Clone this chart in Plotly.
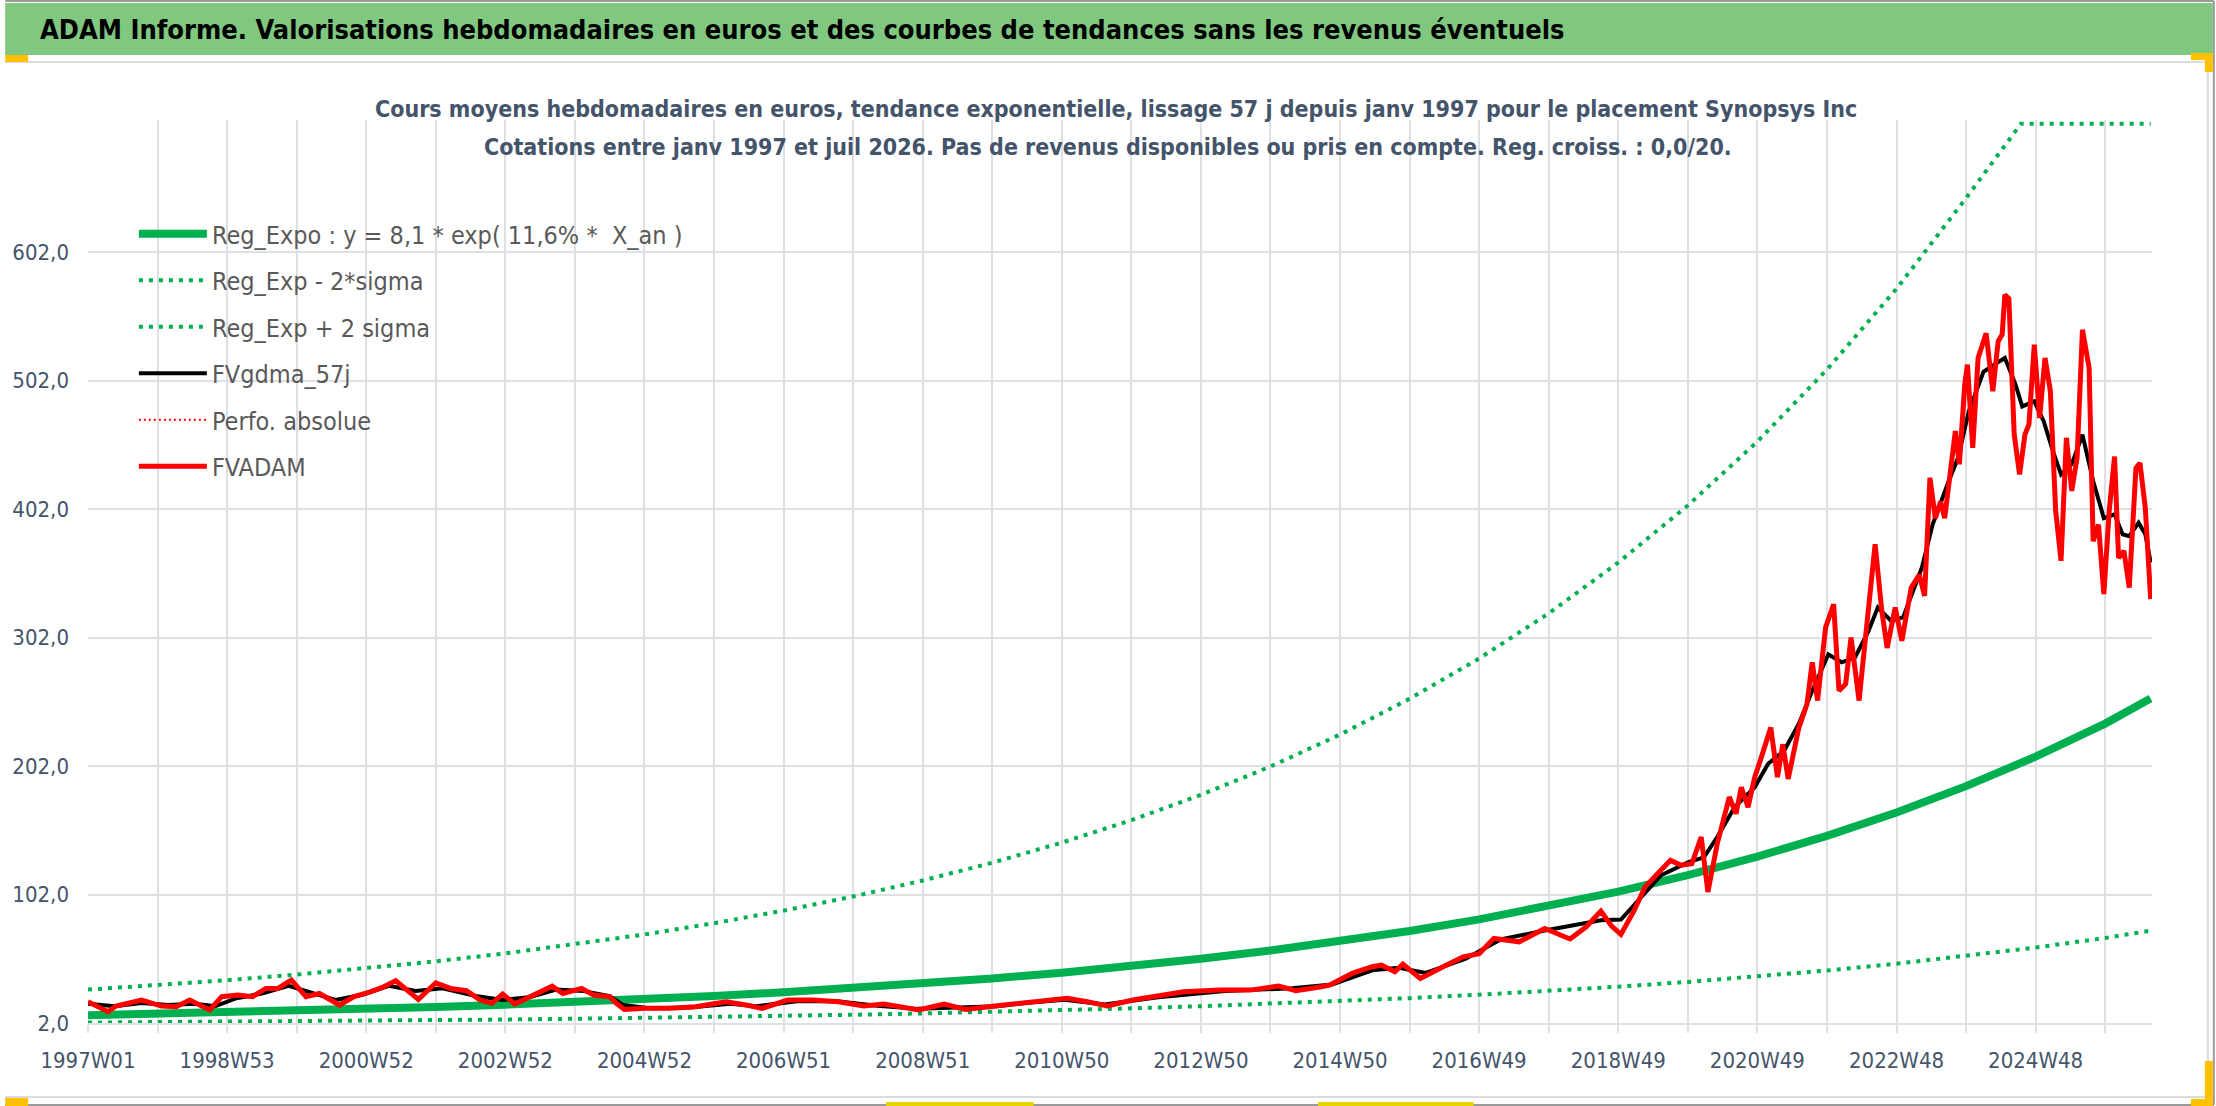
import plotly.graph_objects as go

# --- data ----------------------------------------------------------------
# x = week index since 1997W01 (one category per week)
x_labels = ["1997W01", "1998W53", "2000W52", "2002W52", "2004W52", "2006W51", "2008W51",
            "2010W50", "2012W50", "2014W50", "2016W49", "2018W49", "2020W49", "2022W48", "2024W48"]
n_weeks = 1543

y_ticks = [2, 102, 202, 302, 402, 502, 602]
y_labels = ["2,0", "102,0", "202,0", "302,0", "402,0", "502,0", "602,0"]

# regression curves, read at every yearly gridline (+ last week)
reg_weeks = [0, 52, 104, 156, 208, 260, 312, 364, 416, 468, 520, 572, 624, 676, 728, 780,
             832, 884, 936, 988, 1040, 1092, 1144, 1196, 1248, 1300, 1352, 1404, 1445, 1456, 1508, 1542]
reg_expo = [8.1, 9.1, 10.2, 11.5, 12.9, 14.5, 16.3, 18.3, 20.5, 23.0, 25.9, 29.1, 32.7, 36.7, 41.2, 46.3,
            52.0, 58.4, 65.5, 73.6, 82.7, 92.9, 104.3, 117.1, 131.5, 147.7, 165.9, 186.4, 204.5, 209.3, 235.1, 254.6]
reg_plus = [28.0, 31.4, 35.3, 39.7, 44.6, 50.0, 56.2, 63.2, 70.9, 79.7, 89.5, 100.5, 112.9, 126.8, 142.4, 159.9,
            179.6, 201.7, 226.5, 254.4, 285.8, 320.9, 360.5, 404.9, 454.7, 510.7, 573.6, 644.2, 702, 702, 702, 702]
reg_minus = [2.35, 2.64, 2.96, 3.33, 3.74, 4.2, 4.72, 5.3, 5.95, 6.68, 7.51, 8.43, 9.47, 10.64, 11.95, 13.42,
             15.07, 16.93, 19.01, 21.36, 23.99, 26.94, 30.26, 33.99, 38.17, 42.87, 48.15, 54.08, 59.0, 60.74, 68.22, 73.9]

# FVADAM weekly valuation (red)
adam_weeks = [0, 15, 21, 40, 55, 66, 76, 91, 100, 112, 123, 133, 142, 152, 163, 173, 188, 199, 211, 220,
              230, 237, 247, 260, 271, 283, 293, 302, 310, 319, 333, 347, 355, 369, 378, 390, 395, 401, 416, 435,
              454, 477, 492, 504, 523, 542, 561, 580, 595, 621, 640, 656, 678, 701, 732, 747, 762, 781, 800, 819,
              846, 869, 890, 903, 922, 928, 945, 960, 967, 977, 983, 996, 1009, 1028, 1040, 1051, 1070, 1089, 1108, 1120,
              1131, 1139, 1146, 1156, 1164, 1176, 1183, 1191, 1199, 1206, 1211, 1218, 1227, 1232, 1236, 1241, 1246, 1251, 1258, 1263,
              1267, 1271, 1279, 1285, 1289, 1293, 1299, 1305, 1309, 1314, 1318, 1324, 1329, 1336, 1341, 1345, 1351, 1356, 1363, 1369,
              1373, 1377, 1381, 1385, 1388, 1392, 1396, 1399, 1403, 1405, 1409, 1413, 1419, 1424, 1428, 1431, 1433, 1436, 1440, 1444,
              1448, 1451, 1455, 1459, 1463, 1467, 1471, 1475, 1479, 1483, 1487, 1491, 1496, 1499, 1503, 1507, 1511, 1515, 1518, 1522,
              1526, 1531, 1534, 1538, 1542]
adam_vals = [18.6, 10.8, 15.2, 19.9, 15.2, 14.7, 19.9, 12.1, 22.5, 23.8, 22.5, 28.9, 28.9, 35.4, 22.5, 25.0, 16.0, 22.5, 26.3, 29.7,
             34.9, 28.9, 20.4, 33.3, 28.9, 27.1, 19.9, 17.3, 24.5, 16.8, 23.8, 30.7, 25.0, 28.9, 23.8, 22.5, 17.3, 12.6, 13.4, 13.4,
             14.7, 18.6, 16.0, 13.4, 19.9, 19.9, 18.6, 15.2, 16.8, 12.1, 16.8, 12.6, 15.2, 17.8, 21.2, 18.6, 15.2, 19.9, 23.0, 26.3,
             27.6, 27.6, 30.7, 27.1, 30.2, 31.5, 40.6, 45.8, 47.0, 41.9, 47.8, 36.7, 43.7, 53.5, 56.0, 67.8, 65.2, 75.6, 67.4, 76.9,
             89.0, 77.5, 71.0, 89.8, 108.0, 121.0, 128.6, 124.8, 126.0, 146.8, 104.0, 141.6, 177.9, 165.0, 185.6, 170.0, 193.4, 209.0, 232.0, 193.4,
             219.0, 192.0, 232.0, 250.0, 282.8, 253.0, 310.0, 328.0, 260.7, 266.0, 302.0, 253.0, 302.0, 374.7, 323.0, 294.0, 325.5, 299.6, 341.0, 351.0,
             334.5, 426.5, 395.0, 408.0, 395.0, 431.7, 462.8, 437.0, 499.0, 514.6, 449.8, 519.7, 539.0, 493.8, 532.7, 538.0, 569.0, 566.0, 460.0, 429.0,
             460.0, 468.0, 530.0, 473.0, 519.7, 494.0, 400.6, 361.8, 457.6, 416.2, 442.0, 541.7, 512.0, 377.0, 390.0, 335.9, 400.6, 443.0, 364.0, 369.5,
             341.0, 434.0, 438.0, 403.0, 332.0]

# FVgdma_57j smoothed valuation (black)
gdma_weeks = [0, 20, 40, 60, 80, 95, 110, 130, 150, 165, 185, 205, 225, 245, 265, 290, 310, 330, 350, 370,
              390, 400, 420, 450, 480, 500, 530, 560, 590, 620, 650, 680, 700, 730, 760, 800, 850, 900, 930, 960,
              980, 1000, 1030, 1056, 1089, 1131, 1146, 1161, 1176, 1196, 1208, 1218, 1231, 1246, 1256, 1268, 1279, 1289, 1301, 1311,
              1321, 1331, 1338, 1348, 1357, 1371, 1379, 1390, 1398, 1406, 1417, 1425, 1433, 1441, 1446, 1455, 1462, 1469, 1475, 1483,
              1491, 1499, 1507, 1515, 1521, 1526, 1533, 1538, 1542]
gdma_vals = [17.0, 15.0, 17.5, 16.0, 17.0, 15.0, 21.0, 25.0, 31.0, 26.0, 20.0, 24.0, 31.0, 27.0, 29.0, 23.0, 20.0, 22.0, 28.0, 27.0,
             23.0, 16.0, 13.5, 14.0, 17.0, 15.0, 19.0, 19.0, 15.5, 13.0, 14.0, 15.0, 17.5, 20.0, 16.5, 22.0, 27.0, 29.0, 32.0, 43.0,
             45.0, 41.0, 52.0, 67.0, 74.0, 82.0, 82.5, 100.0, 117.0, 127.0, 131.0, 146.8, 170.0, 185.6, 203.8, 214.0, 235.0, 260.7, 289.0, 282.8,
             286.6, 307.0, 325.5, 315.0, 318.0, 356.6, 390.0, 421.0, 442.0, 478.0, 509.0, 514.6, 519.7, 499.0, 482.0, 486.0, 470.5, 447.0, 429.0, 437.0,
             460.0, 424.0, 395.0, 398.0, 382.5, 381.0, 391.5, 382.5, 360.5]

# --- geometry -------------------------------------------------------------
W, H = 2216, 1106
L, R, T, B = 83, 64, 120, 83
PW, PH = W - L - R, H - T - B


def px(x):
    return (x - L) / PW


def py(y):
    return (H - B - y) / PH


FONT = "Liberation Sans Narrow, DejaVu Sans Condensed, Arial Narrow, sans-serif"
GREEN = "#00B050"
GRID = "#DDE0E5"
TXT = "#44546A"

fig = go.Figure()
fig.add_trace(go.Scatter(x=reg_weeks, y=reg_expo, mode="lines", name="Reg_Expo : y = 8,1 * exp( 11,6% *  X_an )",
                         line=dict(color=GREEN, width=8), legendgroup="a"))
fig.add_trace(go.Scatter(x=reg_weeks, y=reg_minus, mode="lines", name="Reg_Exp - 2*sigma",
                         line=dict(color=GREEN, width=4, dash="4px,6px"), legendgroup="b"))
fig.add_trace(go.Scatter(x=reg_weeks, y=reg_plus, mode="lines", name="Reg_Exp + 2 sigma",
                         line=dict(color=GREEN, width=4, dash="4px,6px"), legendgroup="c"))
fig.add_trace(go.Scatter(x=gdma_weeks, y=gdma_vals, mode="lines", name="FVgdma_57j",
                         line=dict(color="black", width=4), legendgroup="d"))
fig.add_trace(go.Scatter(x=[None], y=[None], mode="lines", name="Perfo. absolue",
                         line=dict(color="#FF0000", width=2, dash="2px,3px"), legendgroup="e"))
fig.add_trace(go.Scatter(x=adam_weeks, y=adam_vals, mode="lines", name="FVADAM",
                         line=dict(color="#FF0000", width=5), legendgroup="f"))

shapes = [
    # header band
    dict(type="rect", xref="paper", yref="paper", x0=px(0), x1=px(2213), y0=py(55), y1=py(3),
         fillcolor="#80C880", line=dict(width=0), layer="below"),
    # outer border
    dict(type="line", xref="paper", yref="paper", x0=px(0), x1=px(2214), y0=py(1), y1=py(1),
         line=dict(color="#9A9A9A", width=2)),
    dict(type="line", xref="paper", yref="paper", x0=px(2214), x1=px(2214), y0=py(1), y1=py(1105),
         line=dict(color="#9A9A9A", width=2)),
    dict(type="line", xref="paper", yref="paper", x0=px(0), x1=px(2214), y0=py(1105), y1=py(1105),
         line=dict(color="#9A9A9A", width=2)),
    # inner chart frame
    dict(type="line", xref="paper", yref="paper", x0=px(0), x1=px(2208), y0=py(62), y1=py(62),
         line=dict(color="#DCDCDC", width=2)),
    dict(type="line", xref="paper", yref="paper", x0=px(2208), x1=px(2208), y0=py(62), y1=py(1097),
         line=dict(color="#DCDCDC", width=2)),
    dict(type="line", xref="paper", yref="paper", x0=px(0), x1=px(2208), y0=py(1097), y1=py(1097),
         line=dict(color="#DCDCDC", width=2)),
    # white box behind the subtitle
    dict(type="rect", xref="paper", yref="paper", x0=px(335), x1=px(1870), y0=py(175), y1=py(90),
         fillcolor="white", line=dict(width=0), layer="between"),
]
# selection handles
for x0, y0, x1, y1, c in [(0, 55, 23, 62, "#FFC000"), (2191, 53, 2213, 60, "#FFC000"),
                          (2205, 53, 2213, 72, "#FFC000"), (0, 1098, 23, 1106, "#FFC000"),
                          (2191, 1099, 2213, 1106, "#FFC000"), (2205, 1061, 2213, 1106, "#FFC000"),
                          (883, 1102, 1031, 1106, "#E8D400"), (1316, 1102, 1472, 1106, "#E8D400")]:
    shapes.append(dict(type="rect", xref="paper", yref="paper", x0=px(x0), x1=px(x1), y0=py(y1), y1=py(y0),
                       fillcolor=c, line=dict(width=0)))

annotations = [
    dict(text="<b>ADAM Informe. Valorisations hebdomadaires en euros et des courbes de tendances sans les revenus éventuels</b>",
         xref="paper", yref="paper", x=px(33), y=py(29), xanchor="left", yanchor="middle", showarrow=False,
         font=dict(family=FONT, size=27, color="black")),
    dict(text="<b>Cours moyens hebdomadaires en euros, tendance exponentielle, lissage 57 j depuis janv 1997 pour le placement Synopsys Inc</b>",
         xref="paper", yref="paper", x=px(1113), y=py(109), xanchor="center", yanchor="middle", showarrow=False,
         font=dict(family=FONT, size=23, color=TXT)),
    dict(text="<b>Cotations entre janv 1997 et juil 2026. Pas de revenus disponibles ou pris en compte. Reg. croiss. : 0,0/20.</b>",
         xref="paper", yref="paper", x=px(1105), y=py(147), xanchor="center", yanchor="middle", showarrow=False,
         font=dict(family=FONT, size=23, color=TXT)),
]

fig.update_layout(
    width=W, height=H,
    margin=dict(l=L, r=R, t=T, b=B, pad=0),
    paper_bgcolor="white", plot_bgcolor="white",
    font=dict(family=FONT, color=TXT),
    shapes=shapes, annotations=annotations,
    showlegend=True,
    legend=dict(x=px(129), y=py(211), xanchor="left", yanchor="top", bgcolor="rgba(0,0,0,0)",
                font=dict(family=FONT, size=25, color="#595959"), itemwidth=68,
                tracegroupgap=11, traceorder="grouped"),
)
fig.update_xaxes(
    range=[0, n_weeks], showgrid=False, zeroline=False,
    tickvals=[i * 104 for i in range(len(x_labels))], ticktext=x_labels,
    ticks="outside", ticklen=8, tickwidth=2, tickcolor=GRID, ticklabelstandoff=9,
    tickfont=dict(family=FONT, size=22, color=TXT),
    showline=True, linecolor=GRID, linewidth=2,
    minor=dict(dtick=52, tick0=0, showgrid=True, gridcolor=GRID, gridwidth=2,
               ticks="outside", ticklen=8, tickwidth=2, tickcolor=GRID),
)
fig.update_yaxes(
    range=[2, 705], tickvals=y_ticks, ticktext=y_labels,
    showgrid=True, gridcolor=GRID, gridwidth=2, zeroline=False, showline=False,
    ticklabelstandoff=18, tickfont=dict(family=FONT, size=22, color=TXT),
)

fig.write_html("out.html", config={"displayModeBar": False},
               post_script="document.body.style.margin='0';document.body.style.overflow='hidden';")
